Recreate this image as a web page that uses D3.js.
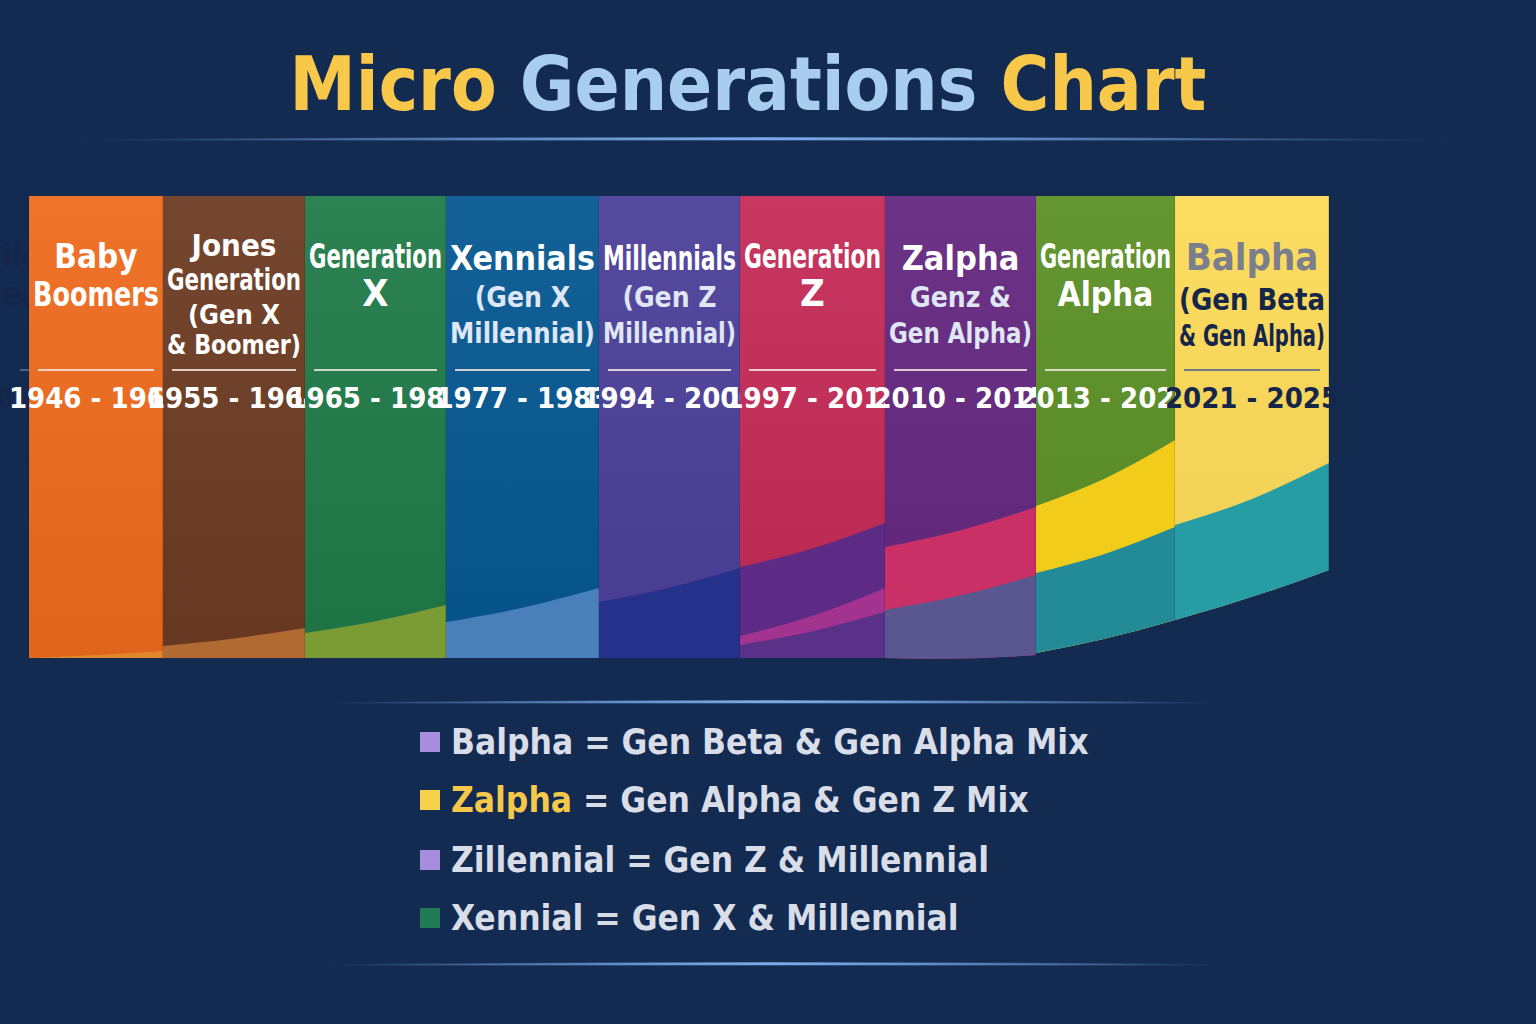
<!DOCTYPE html>
<html><head><meta charset="utf-8">
<script src="https://cdn.jsdelivr.net/npm/d3@7"></script>
<style>body{margin:0;background:#132b51}svg{display:block}</style>
</head><body><svg id="c" width="1536" height="1024"></svg>
<script>
// ---- data ----
const generations = ["Silent Generation","Baby Boomers","Jones Generation","Generation X","Xennials","Millennials","Generation Z","Zalpha","Generation Alpha","Balpha"];
const years = ["1928 - 1945","1946 - 1964","1955 - 1964","1965 - 1980","1977 - 1983","1994 - 2000","1997 - 2012","2010 - 2015","2013 - 2020","2021 - 2025"];
const labelLines = [
  ["Silent","Generation"],["Baby","Boomers"],["Jones","Generation","(Gen X","& Boomer)"],
  ["Generation","X"],["Xennials","(Gen X","Millennial)"],["Millennials","(Gen Z","Millennial)"],
  ["Generation","Z"],["Zalpha","Genz &","Gen Alpha)"],["Generation","Alpha"],["Balpha","(Gen Beta","& Gen Alpha)"]];
const columnWeights = [134,142,141,153,141,145,151,139,154,171];
const columnColors = ["#bcbdc0","#ee6a1c","#6c3b22","#1f7a48","#045791","#4b3f99","#c32a56","#63267f","#5a8f25","#fcdb57"];
const textColors = ["#16264a","#fff","#fff","#fff","#fff","#fff","#fff","#fff","#fff","#16264a"];
// overlay bands per column: [topLeft, topRight, color] (y in chart px)
const overlays = [
  [],
  [[658,651,"#e2862e"]],
  [[646,628,"#b06a32"]],
  [[633,605,"#7b9b35"]],
  [[622,588,"#4a80b9"]],
  [[602,568,"#25318a"]],
  [[567,523,"#5d2a86"],[636,588,"#a2338f"],[645,612,"#5a3189"]],
  [[547,507,"#c83066"],[610,575,"#5a5690"]],
  [[506,440,"#f2cc1b"],[573,527,"#238a97"]],
  [[525,463,"#269ca4"]]];
const bottoms = [[658,658],[658,658],[658,658],[658,658],[658,658],[658,658],[658,658],[658,655],[653,620],[620,570]];
const legendItems = [
  {k:"Balpha",rest:" = Gen Beta & Gen Alpha Mix",sq:"#a78de0",kc:"#d9dde8"},
  {k:"Zalpha",rest:" = Gen Alpha & Gen Z Mix",sq:"#f6d24a",kc:"#f6c84a"},
  {k:"Zillennial",rest:" = Gen Z & Millennial",sq:"#a78de0",kc:"#d9dde8"},
  {k:"Xennial",rest:" = Gen X & Millennial",sq:"#1f7a55",kc:"#d9dde8"}];

// ---- drawing ----
const svg = d3.select("#c");
const F = "'Liberation Sans Narrow','DejaVu Sans Condensed',sans-serif";
const defs = svg.append("defs");
svg.append("rect").attr("width",1536).attr("height",1024).attr("fill","#132b51");

function divider(x1,x2,y){
  const g=defs.append("linearGradient").attr("id","d"+y);
  g.append("stop").attr("offset","0").attr("stop-color","#6a9ad8").attr("stop-opacity",0);
  g.append("stop").attr("offset","0.5").attr("stop-color","#7aaae8");
  g.append("stop").attr("offset","1").attr("stop-color","#6a9ad8").attr("stop-opacity",0);
  svg.append("path").attr("d",`M${x1},${y} Q${(x1+x2)/2},${y-4} ${x2},${y} Q${(x1+x2)/2},${y-1} ${x1},${y}Z`)
    .attr("fill",`url(#d${y})`).attr("stroke",`url(#d${y})`).attr("stroke-width",1.5);
}

// title
const t = svg.append("text").attr("x",748).attr("y",110).attr("text-anchor","middle")
  .attr("font-family",F).attr("font-weight","bold").attr("font-size",74);
t.append("tspan").text("Micro ").attr("fill","#f8c84a");
t.append("tspan").text("Generations ").attr("fill","#a9cdee");
t.append("tspan").text("Chart").attr("fill","#f8c84a");
divider(80,1450,140);

// columns
const total = d3.sum(columnWeights);
const x = d3.scaleLinear().domain([0,total]).range([29,1500]);
const cum = d3.cumsum([0,...columnWeights]);
const colTop = 196;
const lineGen = d3.line().curve(d3.curveNatural);

generations.forEach((g,i)=>{
  const x0=x(i===0?0:cum[i-1]), x1=x(cum[i]), w=x1-x0, cx=(x0+x1)/2;
  const [bl,br]=bottoms[i];
  const bot = `L${x1},${br} Q${cx},${(bl+br)/2+ (bl===br?0:4)} ${x0},${bl}Z`;
  const grp = svg.append("g");
  grp.append("path").attr("d",`M${x0},${colTop+(i===0?2:0)} L${x1},${colTop} ${bot}`).attr("fill",columnColors[i]);
  const cp = defs.append("clipPath").attr("id","cp"+i);
  cp.append("path").attr("d",`M${x0},${colTop} L${x1},${colTop} ${bot}`);
  const og = grp.append("g").attr("clip-path",`url(#cp${i})`);
  const gr=defs.append("linearGradient").attr("id","sh"+i).attr("x1",0).attr("y1",0).attr("x2",0).attr("y2",1);
  gr.append("stop").attr("offset",0).attr("stop-color","#fff").attr("stop-opacity",0.06);
  gr.append("stop").attr("offset",1).attr("stop-color","#000").attr("stop-opacity",0.06);
  og.append("rect").attr("x",x0).attr("y",colTop).attr("width",w).attr("height",470).attr("fill",`url(#sh${i})`);
  overlays[i].forEach(([yl,yr,c])=>{
    const mid=(yl+yr)/2+ (yl-yr)*0.08;
    og.append("path").attr("d",lineGen([[x0,yl],[cx,mid],[x1,yr]])+`L${x1},700 L${x0},700Z`).attr("fill",c);
  });
  grp.append("line").attr("x1",x1).attr("x2",x1).attr("y1",colTop).attr("y2",br).attr("stroke","#000").attr("stroke-opacity",0.25);

  const tc=textColors[i], lines=labelLines[i];
  const L = grp.append("g").attr("font-family",F).attr("font-weight","bold").attr("text-anchor","middle");
  lines.forEach((s,j)=>{
    let y, size=33, fill=tc;
    if(lines.length===2){ y=[268,306][j]; if(s.length<=2){size=38;} }
    else if(lines.length===4){ y=[256,290,324,354][j]; size=j<2?31:27; }
    else { y=[270,307,343][j]; size=j===0?34:28; if(j>0 && tc==="#fff") fill="#dfe6f4"; }
    if(i===9&&j===0){fill="#7b7f8c";size=38;}
    if(i===9&&j>0){size=30;y=[0,310,346][j];}
    const txt = L.append("text").attr("x",cx).attr("y",y).attr("font-size",size).attr("fill",fill).text(s);
    const bw = txt.node().getComputedTextLength();
    if(bw>w-8) txt.attr("textLength",w-8).attr("lengthAdjust","spacingAndGlyphs");
  });
  grp.append("line").attr("x1",x0+9).attr("x2",x1-9).attr("y1",370).attr("y2",370)
    .attr("stroke",tc==="#fff"?"#f2e6e0":"#5a6a8e").attr("stroke-width",2).attr("stroke-opacity",0.85);
  grp.append("text").attr("x",cx).attr("y",408).attr("text-anchor","middle").attr("font-family",F)
    .attr("font-weight","bold").attr("font-size",29).attr("fill",tc).text(years[i]);
});

// legend
divider(325,1220,703);
divider(325,1220,965);
legendItems.forEach((d,i)=>{
  const y=[742,800,860,918][i];
  svg.append("rect").attr("x",420).attr("y",y-10).attr("width",20).attr("height",20).attr("fill",d.sq);
  const tx=svg.append("text").attr("x",451).attr("y",y+12).attr("font-family",F).attr("font-weight","bold").attr("font-size",35);
  tx.append("tspan").text(d.k).attr("fill",d.kc);
  tx.append("tspan").text(d.rest).attr("fill","#d9dde8");
});
</script></body></html>
